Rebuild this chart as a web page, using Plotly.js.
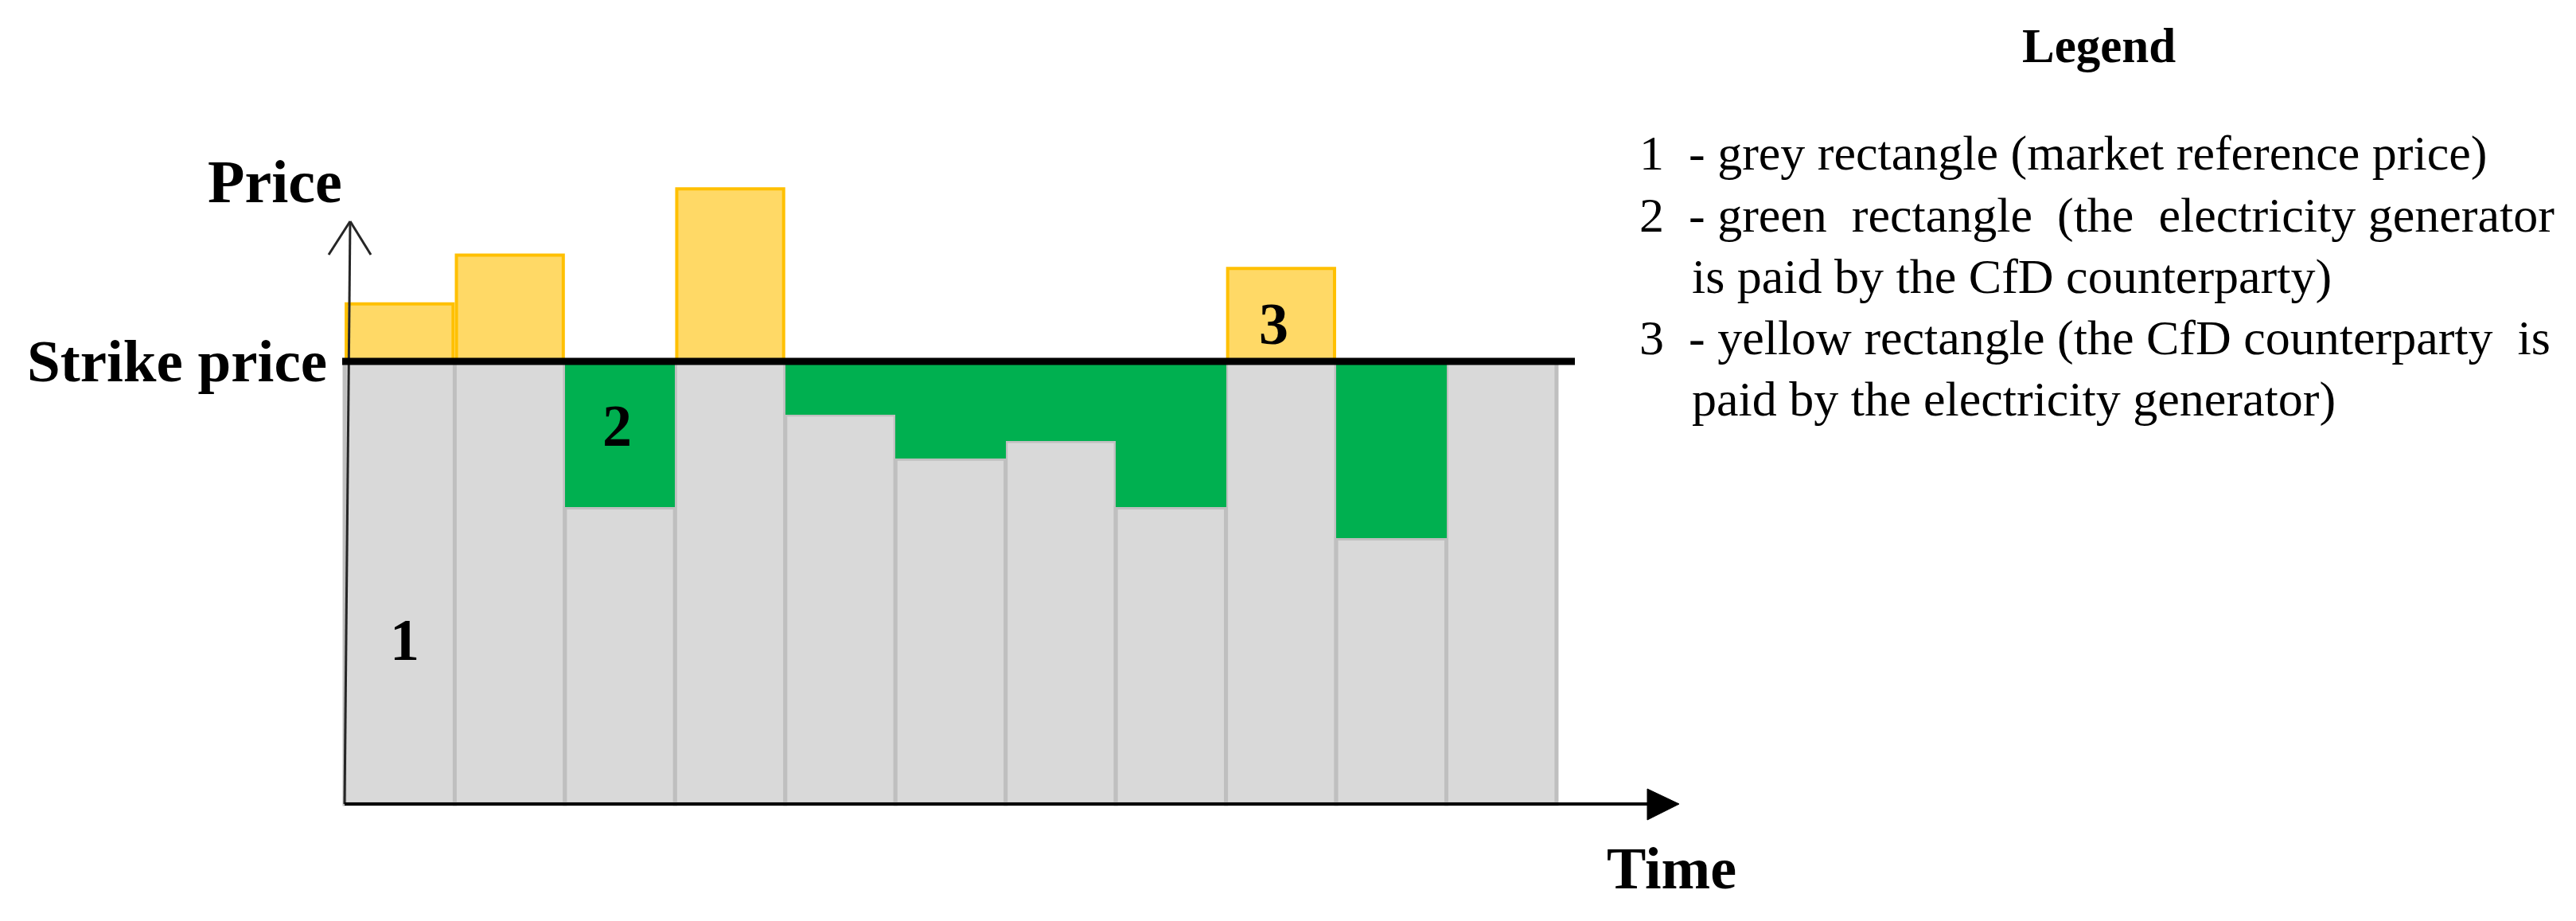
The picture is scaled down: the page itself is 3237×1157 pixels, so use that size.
<!DOCTYPE html>
<html>
<head>
<meta charset="utf-8">
<script src="https://cdn.plot.ly/plotly-3.0.1.min.js"></script>
<style>html,body{margin:0;padding:0;background:#fff;}#chart{width:3237px;height:1157px;}</style>
</head>
<body>
<div id="chart"></div>
<script>
// ---- data (strike price = 100 units) ----
const periods = [1, 2, 3, 4, 5, 6, 7, 8, 9, 10, 11];
const marketPrice = [113, 124, 67, 139, 88, 78, 82, 67, 121, 60, 100];
const strikePrice = 100;
const axisLabels = ["Price", "Time", "Strike price"];
const regionLabels = ["1", "2", "3"];
const legendTitle = "Legend";
const legendLines = [
  "1\u00A0\u00A0- grey rectangle (market reference price)",
  "2\u00A0\u00A0- green\u00A0 rectangle\u00A0 (the\u00A0 electricity generator",
  "is paid by the CfD counterparty)",
  "3\u00A0\u00A0- yellow rectangle (the CfD counterparty\u00A0 is",
  "paid by the electricity generator)"
];

// ---- derived series ----
const greyH = marketPrice.map(p => Math.min(p, strikePrice));
const greenH = marketPrice.map(p => p < strikePrice ? strikePrice - p : null);
const greenBase = marketPrice.map(p => p < strikePrice ? p : null);
const yellowH = marketPrice.map(p => p > strikePrice ? p - strikePrice : null);
const yellowBase = marketPrice.map(p => p > strikePrice ? strikePrice : null);

// ---- layout calibration (pixels) ----
const W = 3237, H = 1157;
const pxLeft = 433, pxPerBar = 138.45;
const pyZero = 1010, pyStrike = 454;
const unit = (pyZero - pyStrike) / strikePrice;
const xmin = 0.5 - pxLeft / pxPerBar;
const xmax = xmin + W / pxPerBar;
const ymin = -(H - pyZero) / unit;
const ymax = pyZero / unit;
const X = px => xmin + px / pxPerBar;
const Y = py => (pyZero - py) / unit;
const P = px => px / W;
const Q = py => 1 - py / H;

const traces = [
  {type: 'bar', x: periods, y: greyH, base: 0, width: 1,
   marker: {color: '#D9D9D9', line: {color: '#BFBFBF', width: 5}}, hoverinfo: 'skip'},
  {type: 'bar', x: periods, y: greenH, base: greenBase, width: 1,
   marker: {color: '#00B050', line: {color: '#00B050', width: 0}}, hoverinfo: 'skip'},
  {type: 'bar', x: periods, y: yellowH, base: yellowBase, width: 0.97,
   marker: {color: '#FFD966', line: {color: '#FFC000', width: 4}}, hoverinfo: 'skip'}
];

const yTop = Y(278);
const tipX = X(440);
const wingY = Y(320);
const triX0 = X(2070), triX1 = X(2110);

const shapes = [
  // y axis with open arrowhead
  {type: 'line', xref: 'x', yref: 'y', x0: 0.5, y0: 0, x1: tipX, y1: yTop,
   line: {color: '#262626', width: 3}},
  {type: 'line', xref: 'x', yref: 'y', x0: tipX, y0: yTop, x1: X(413), y1: wingY,
   line: {color: '#262626', width: 3}},
  {type: 'line', xref: 'x', yref: 'y', x0: tipX, y0: yTop, x1: X(466), y1: wingY,
   line: {color: '#262626', width: 3}},
  // x axis with filled arrowhead
  {type: 'line', xref: 'x', yref: 'y', x0: 0.5, y0: 0, x1: triX0, y1: 0,
   line: {color: '#000000', width: 4}},
  {type: 'path', xref: 'x', yref: 'y',
   path: `M${triX0},${Y(991)} L${triX1},0 L${triX0},${Y(1030)} Z`,
   fillcolor: '#000000', line: {color: '#000000', width: 1}},
  // strike price line
  {type: 'line', xref: 'x', yref: 'y', x0: X(430), y0: strikePrice, x1: X(1979), y1: strikePrice,
   line: {color: '#000000', width: 9}}
];

const serif = 'Liberation Serif, Times New Roman, serif';
const ann = (text, px, py, size, bold, xanchor) => ({
  xref: 'paper', yref: 'paper', x: P(px), y: Q(py), text: bold ? '<b>' + text + '</b>' : text,
  showarrow: false, xanchor: xanchor || 'center', yanchor: 'middle',
  font: {family: serif, size: size, color: '#000000'}
});

const annotations = [
  ann(axisLabels[0], 345, 228, 76, true),
  ann(axisLabels[1], 2100, 1091, 74, true),
  ann(axisLabels[2], 222, 454, 75, true),
  ann(regionLabels[0], 508, 804, 74, true),
  ann(regionLabels[1], 775, 535, 74, true),
  ann(regionLabels[2], 1600, 407, 74, true),
  ann(legendTitle, 2637, 57, 61, true),
  ann(legendLines[0], 2058, 193, 62, false, 'left'),
  ann(legendLines[1], 2058, 270, 62, false, 'left'),
  ann(legendLines[2], 2124, 347, 62, false, 'left'),
  ann(legendLines[3], 2058, 424, 62, false, 'left'),
  ann(legendLines[4], 2124, 501, 62, false, 'left')
];

const layout = {
  width: W, height: H,
  margin: {l: 0, r: 0, t: 0, b: 0, pad: 0},
  paper_bgcolor: '#ffffff', plot_bgcolor: '#ffffff',
  showlegend: false,
  barmode: 'overlay', bargap: 0,
  xaxis: {range: [xmin, xmax], visible: false, fixedrange: true},
  yaxis: {range: [ymin, ymax], visible: false, fixedrange: true},
  shapes: shapes,
  annotations: annotations
};

Plotly.newPlot('chart', traces, layout, {displayModeBar: false, staticPlot: true});
</script>
</body>
</html>
